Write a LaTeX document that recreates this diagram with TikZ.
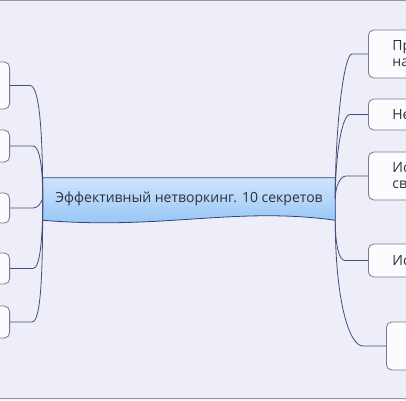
\documentclass[tikz,border=0pt]{standalone}
\usepackage{fontspec}
\setmainfont{Open Sans}
\usepackage{xcolor}
\usepackage{tikz}
\usetikzlibrary{backgrounds}

\definecolor{paper}{HTML}{EDEEF7}
\definecolor{linkc}{HTML}{4B4A7E}
\definecolor{boxc}{HTML}{767A96}
\definecolor{hubtop}{HTML}{CFE4FC}
\definecolor{hubbot}{HTML}{8FC2F5}
\definecolor{hubline}{HTML}{34427E}
\definecolor{ink}{HTML}{30303C}

\begin{document}
\begin{tikzpicture}[
      x=0.75pt, y=-0.75pt,
      topic/.style={draw=boxc, fill=white!85!paper, rounded corners=4pt, line width=0.6pt,
        text=ink, font=\fontsize{10.5}{12}\selectfont},
      lefttopic/.style={topic, minimum width=60pt, anchor=east},
      righttopic/.style={topic, anchor=west, text width=70pt, align=left, inner xsep=18pt},
      link/.style={draw=linkc, line width=0.6pt}
    ]
    \useasboundingbox (0,0) rectangle (406,400);
    \clip (0,0) rectangle (406,400);
    \node[text=ink, minimum width=219pt, minimum height=31.5pt, font=\fontsize{10.5}{12}\selectfont]
      (hub) at (189,199) {Эффективный нетворкинг. 10 секретов};
    \begin{scope}[on background layer]
      \fill[paper] (0,0) rectangle (406,400);
      \draw[hubline, line width=0.6pt, top color=hubtop, bottom color=hubbot]
        (hub.north west) -- (hub.north east) -- (hub.south east)
        .. controls +(-100,-14) and +(120,10) .. (hub.south west) -- cycle;
    \end{scope}
    \draw[gray!80] (0,0.5) -- (406,0.5);
    \draw[gray!80] (0,398.5) -- (406,398.5);

    \node[lefttopic, minimum height=35.25pt] (t1) at (10,85.5) {};
    \node[lefttopic, minimum height=24pt] (t2) at (10,146) {};
    \node[lefttopic, minimum height=22.5pt] (t3) at (10,208) {};
    \node[lefttopic, minimum height=23.25pt] (t4) at (10,268.5) {};
    \node[lefttopic, minimum height=24pt] (t5) at (10,322) {};

    \node[righttopic, minimum height=36pt] (s1) at (368,54) {Пр\\на};
    \node[righttopic, minimum height=23.25pt] (s2) at (368,114.5) {Не};
    \node[righttopic, minimum height=36pt] (s3) at (368,176) {Ис\\св};
    \node[righttopic, minimum height=24.75pt] (s4) at (368,260.5) {Ис};
    \node[topic, anchor=west, minimum width=80pt, minimum height=36pt] (s5) at (386,346) {};

    \draw[link] (t1.east) -- ++(20,0) .. controls +(9,0) and +(0,-70) .. (hub.west);
    \draw[link] (t2.east) -- ++(23,0) .. controls +(7,0) and +(0,-30) .. (hub.west);
    \draw[link] (t3.east) -- ++(23,0) .. controls +(6,0) and +(-2,3) .. (hub.west);
    \draw[link] (t4.east) -- ++(23,0) .. controls +(7,0) and +(0,40) .. (hub.west);
    \draw[link] (t5.east) -- ++(22,0) .. controls +(9,0) and +(0,75) .. (hub.west);

    \draw[link] (s1.west) -- ++(-16,0) .. controls +(-8,0) and +(0,-75) .. (hub.east);
    \draw[link] (s2.west) -- ++(-18,0) .. controls +(-8,0) and +(0,-45) .. (hub.east);
    \draw[link] (s3.west) -- ++(-22,0) .. controls +(-6,0) and +(0,-12) .. (hub.east);
    \draw[link] (s4.west) -- ++(-23,0) .. controls +(-6,0) and +(0,25) .. (hub.south east);
    \draw[link] (s5.west) -- ++(-23,0) .. controls +(-14,0) and +(0,80) .. (hub.south east);
  \end{tikzpicture}
\end{document}
